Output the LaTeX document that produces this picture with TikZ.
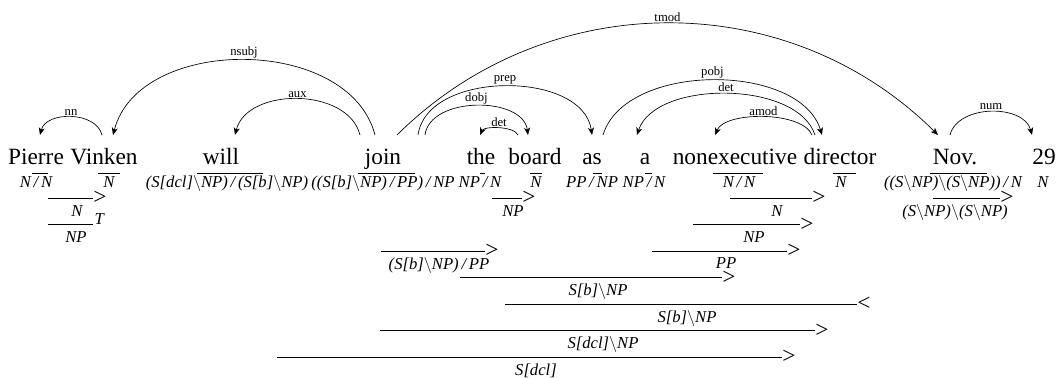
\documentclass[tikz,border=0pt]{standalone}
\usepackage{fontspec}
\setmainfont{Liberation Serif}
\usepackage{tikz}
\usetikzlibrary{arrows.meta,calc}

\newcommand{\cfwd}{\,/\,}
\newcommand{\cbwd}{$\backslash$}

\tikzset{
  word/.style={font=\fontsize{17.5}{21}\selectfont, anchor=base, inner sep=0pt},
  cat/.style={font=\fontsize{12.5}{14}\selectfont\itshape, anchor=base, inner sep=0pt},
  rel/.style={font=\fontsize{9.5}{11}\selectfont, inner sep=1pt},
  dep/.style={line width=0.5pt, -{Stealth[length=5.5pt,width=4.5pt,inset=1.5pt]}},
  comb/.style={line width=0.6pt},
  combsym/.style={font=\fontsize{17.5}{21}\selectfont, anchor=west, inner sep=0pt},
  typeraise/.style={font=\fontsize{12.5}{14}\selectfont\itshape, anchor=base west, inner sep=0pt, xshift=1pt},
}

\begin{document}
\begin{tikzpicture}[x=0.75pt,y=0.75pt,yscale=-1,xscale=1]
        \useasboundingbox (0,0) rectangle (1057,378);

        % Text Node
        \node[word] (pierre) at (36,164) {Pierre};
        \node[word] (vinken) at (104,164) {Vinken};
        \node[word] (will) at (221,164) {will};
        \node[word] (join) at (383,164) {join};
        \node[word] (the) at (481,164) {the};
        \node[word] (board) at (535,164) {board};
        \node[word] (as) at (592,164) {as};
        \node[word] (a) at (645,164) {a};
        \node[word] (nonexec) at (735,164) {nonexecutive};
        \node[word] (director) at (840,164) {director};
        \node[word] (nov) at (955,164) {Nov.};
        \node[word] (twentynine) at (1044,164) {29};

        % Text Node
        \node[cat] (pierreC) at (36,187) {N\cfwd N};
        \node[cat] (vinkenC) at (109,187) {N};
        \node[cat] (willC) at (227,187) {(S[dcl]\cbwd NP)\cfwd(S[b]\cbwd NP)};
        \node[cat] (joinC) at (383,187) {((S[b]\cbwd NP)\cfwd PP)\cfwd NP};
        \node[cat] (theC) at (480,187) {NP\cfwd N};
        \node[cat] (boardC) at (536,187) {N};
        \node[cat] (asC) at (592,187) {PP\cfwd NP};
        \node[cat] (aC) at (644,187) {NP\cfwd N};
        \node[cat] (nonexecC) at (739,187) {N\cfwd N};
        \node[cat] (directorC) at (841,187) {N};
        \node[cat] (novC) at (953,187) {((S\cbwd NP)\cbwd(S\cbwd NP))\cfwd N};
        \node[cat] (twentynineC) at (1043,187) {N};

        %Straight Lines
        \draw[comb] (32,173) -- (48,173);
        \draw[comb] (98,173) -- (120,173);
        \draw[comb] (197,173) -- (263,173);
        \draw[comb] (358,173) -- (415,173);
        \draw[comb] (480,173) -- (485,173);
        \draw[comb] (530,173) -- (542,173);
        \draw[comb] (593,173) -- (602,173);
        \draw[comb] (645,173) -- (652,173);
        \draw[comb] (713,173) -- (763,173);
        \draw[comb] (833,173) -- (856,173);
        \draw[comb] (930,173) -- (987,173);

        %Straight Lines
        \draw[comb] (48,198) -- (93,198) node[combsym] {>};
        \draw[comb] (492,198) -- (522,198) node[combsym] {>};
        \draw[comb] (730,198) -- (812,198) node[combsym] {>};
        \draw[comb] (933,198) -- (1000,198) node[combsym] {>};
        \draw[comb] (48,224.5) -- (93,224.5) node[typeraise] {T};
        \draw[comb] (693,224.5) -- (800,224.5) node[combsym] {>};
        \draw[comb] (381,251) -- (485,251) node[combsym] {>};
        \draw[comb] (652,251) -- (787,251) node[combsym] {>};
        \draw[comb] (460,277.5) -- (722,277.5) node[combsym] {>};
        \draw[comb] (505,304) -- (857,304) node[combsym] {<};
        \draw[comb] (380,330.5) -- (815,330.5) node[combsym] {>};
        \draw[comb] (277,357) -- (782,357) node[combsym] {>};

        % Text Node
        \node[cat] (pvN) at (77,216) {N};
        \node[cat] (boardNP) at (513,216) {NP};
        \node[cat] (directorN) at (777,216) {N};
        \node[cat] (novMod) at (955,216) {(S\cbwd NP)\cbwd(S\cbwd NP)};
        \node[cat] (pvNP) at (76,242.5) {NP};
        \node[cat] (directorNP) at (754,242.5) {NP};
        \node[cat] (joinVP) at (439,269) {(S[b]\cbwd NP)\cfwd PP};
        \node[cat] (asPP) at (726,268) {PP};
        \node[cat] (vpB) at (598,295.5) {S[b]\cbwd NP};
        \node[cat] (vpBmod) at (687,322) {S[b]\cbwd NP};
        \node[cat] (vpDcl) at (603,348.5) {S[dcl]\cbwd NP};
        \node[cat] (sDcl) at (536,375) {S[dcl]};

        %Curve Lines
        \draw[dep] ($(vinken.base)+(-2,-29)$) .. controls +(-6,-24) and +(6,-24) .. ($(pierre.base)+(4,-29)$) node[rel, midway, above] {nn};
        \draw[dep] ($(join.base)+(-8,-29)$) .. controls +(-26,-100) and +(26,-100) .. ($(vinken.base)+(9,-29)$) node[rel, midway, above] {nsubj};
        \draw[dep] ($(join.base)+(-23,-29)$) .. controls +(-12,-48) and +(12,-48) .. ($(will.base)+(14,-29)$) node[rel, midway, above] {aux};
        \draw[dep] ($(join.base)+(14,-29)$) .. controls +(150,-149) and +(-150,-149) .. ($(nov.base)+(-17,-29)$) node[rel, midway, above] {tmod};
        \draw[dep] ($(join.base)+(35,-29)$) .. controls +(9,-65) and +(-9,-65) .. ($(as.base)+(0,-29)$) node[rel, midway, above] {prep};
        \draw[dep] ($(join.base)+(42,-29)$) .. controls +(5,-39) and +(-5,-39) .. ($(board.base)+(-7,-29)$) node[rel, midway, above] {dobj};
        \draw[dep] ($(board.base)+(-17,-29)$) .. controls +(-4,-9) and +(4,-9) .. ($(the.base)+(-1,-29)$) node[rel, midway, above] {det};
        \draw[dep] ($(as.base)+(11,-29)$) .. controls +(22,-73) and +(-22,-73) .. ($(director.base)+(-18,-29)$) node[rel, midway, above] {pobj};
        \draw[dep] ($(director.base)+(-25,-29)$) .. controls +(-18,-55) and +(18,-55) .. ($(a.base)+(-8,-29)$) node[rel, midway, above] {det};
        \draw[dep] ($(director.base)+(-28,-29)$) .. controls +(-10,-24) and +(10,-24) .. ($(nonexec.base)+(-20,-29)$) node[rel, midway, above] {amod};
        \draw[dep] ($(nov.base)+(-5,-29)$) .. controls +(8,-31) and +(-8,-31) .. ($(twentynine.base)+(-12,-29)$) node[rel, midway, above] {num};

\end{tikzpicture}
\end{document}
